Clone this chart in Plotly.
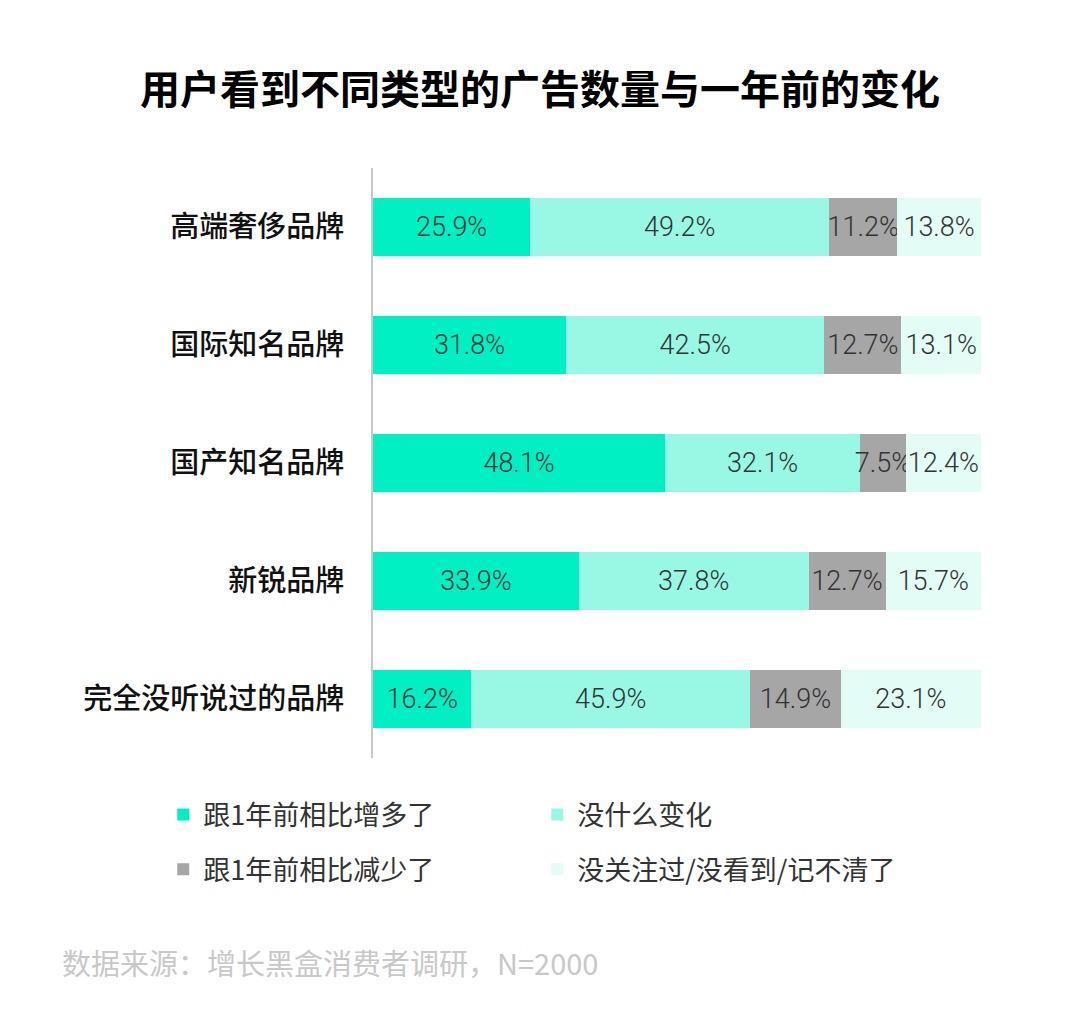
import plotly.graph_objects as go

categories = ["高端奢侈品牌", "国际知名品牌", "国产知名品牌", "新锐品牌", "完全没听说过的品牌"]
series_names = ["跟1年前相比增多了", "没什么变化", "跟1年前相比减少了", "没关注过/没看到/记不清了"]
increased = [25.9, 31.8, 48.1, 33.9, 16.2]
no_change = [49.2, 42.5, 32.1, 37.8, 45.9]
decreased = [11.2, 12.7, 7.5, 12.7, 14.9]
not_sure = [13.8, 13.1, 12.4, 15.7, 23.1]

series_values = [increased, no_change, decreased, not_sure]
colors = ["#00F0C3", "#98F8E4", "#A6A6A6", "#E3FCF5"]
legends = ["legend", "legend", "legend2", "legend2"]

num_font = dict(family="Roboto, sans-serif", size=27, color="#333333", weight=300)
cjk = "Noto Sans CJK SC"

W, H = 1064, 1009
fig = go.Figure()
for name, vals, col, lg in zip(series_names, series_values, colors, legends):
    fig.add_trace(go.Bar(
        y=categories, x=vals, name=name, orientation="h",
        marker=dict(color=col, line=dict(width=0)),
        text=[f"{v:.1f}%" for v in vals],
        textposition="inside", insidetextanchor="middle", textangle=0,
        textfont=num_font, legend=lg,
    ))

leg_common = dict(orientation="h", x=-0.345, xanchor="left", yanchor="top",
                  traceorder="normal", entrywidth=329, entrywidthmode="pixels",
                  font=dict(family=cjk, size=27, color="#333333"),
                  bgcolor="rgba(0,0,0,0)")

fig.update_layout(
    width=W, height=H,
    barmode="stack", bargap=0.508,
    paper_bgcolor="white", plot_bgcolor="white",
    margin=dict(l=365, r=91, t=160, b=259),
    uniformtext=dict(minsize=27, mode="show"),
    title=dict(text="<b>用户看到不同类型的广告数量与一年前的变化</b>",
               font=dict(family=cjk, size=40, color="#000000"),
               x=0.5, xanchor="center", y=1 - 82 / H, yanchor="middle"),
    xaxis=dict(range=[0, 100.1], visible=False, fixedrange=True),
    yaxis=dict(autorange="reversed", showline=True, linecolor="#C8C8C8", linewidth=2,
               ticks="", ticklabelstandoff=21,
               tickfont=dict(family=cjk, size=29, color="#111111", weight=500)),
    legend=dict(y=-0.055, **leg_common),
    legend2=dict(y=-0.148, **leg_common),
    showlegend=True,
)

fig.add_annotation(text="数据来源：增长黑盒消费者调研，N=2000", xref="paper", yref="paper",
                   x=(60 - 373) / 608, xanchor="left", y=(758 - 962) / 590, yanchor="middle",
                   showarrow=False, font=dict(family=cjk, size=29, color="#C8C8C8"))

fig.write_html("out.html")
